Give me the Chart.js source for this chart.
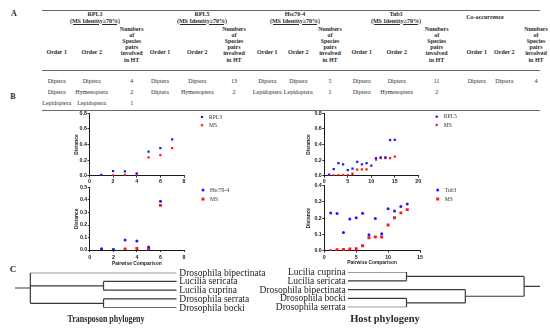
<!DOCTYPE html>
<html>
<head>
<meta charset="utf-8">
<script src="https://cdn.jsdelivr.net/npm/chart.js@4.4.0/dist/chart.umd.min.js"></script>
<style>
  html, body { margin: 0; padding: 0; background: #fff; }
  body { width: 550px; height: 330px; position: relative; overflow: hidden; font-family: "Liberation Serif", serif; color: #2a2a2a; }
  .t { position: absolute; white-space: nowrap; transform: translate(-50%, -50%); line-height: 1; }
  .hd { font-weight: bold; font-size: 6px; }
  .cell { font-size: 6px; }
  .multi { line-height: 6.2px; text-align: center; }
  .rule { position: absolute; background: #6a6a6a; }
  .panel { font-weight: bold; }
  canvas { position: absolute; }
</style>
</head>
<body>
<script>
// ---------- table (A) ----------
var groupNames = ["RPL3", "RPL5", "Hsc70-4", "Tub3", "Co-occurrence"];
var groupNote = "(MS Identity\u226570%)";
var columnNames = ["Order 1", "Order 2"];
var countHeading = ["Numbers", "of", "Species", "pairs", "involved", "in HT"];
var tableRows = [
  ["Diptera", "Diptera", "4", "Diptera", "Diptera", "13", "Diptera", "Diptera", "5", "Diptera", "Diptera", "11", "Diptera", "Diptera", "4"],
  ["Diptera", "Hymenoptera", "2", "Diptera", "Hymenoptera", "2", "Lepidoptera", "Lepidoptera", "1", "Diptera", "Hymenoptera", "2", "", "", ""],
  ["Lepidoptera", "Lepidoptera", "1", "", "", "", "", "", "", "", "", "", "", "", ""]
];

// ---------- scatter plots (B) ----------
var rpl3Pairs = [1, 2, 3, 4, 5, 6, 7];
var rpl3Dist  = [0.01, 0.06, 0.055, 0.03, 0.31, 0.355, 0.465];
var rpl3MS    = [0.0, 0.005, 0.01, 0.01, 0.235, 0.265, 0.355];

var rpl5Pairs = [1, 2, 3, 4, 5, 6, 7, 8, 9, 10, 11, 12, 13, 14, 15];
var rpl5Dist  = [0.015, 0.085, 0.16, 0.145, 0.07, 0.09, 0.178, 0.145, 0.16, 0.128, 0.225, 0.234, 0.234, 0.455, 0.458];
var rpl5MS    = [0.0, 0.005, 0.008, 0.008, 0.008, 0.025, 0.078, 0.082, 0.082, null, 0.205, 0.225, 0.225, 0.225, 0.245];

var hscPairs = [1, 2, 3, 4, 5, 6];
var hscDist  = [0.01, 0.005, 0.08, 0.073, 0.024, 0.39];
var hscMS    = [0.0, 0.0, 0.008, 0.012, 0.01, 0.357];

var tub3Pairs = [1, 2, 3, 4, 5, 6, 7, 8, 9, 10, 11, 12, 13];
var tub3Dist  = [0.231, 0.228, 0.112, 0.195, 0.202, 0.229, 0.098, 0.197, 0.104, 0.258, 0.244, 0.271, 0.287];
var tub3MS    = [0.0, 0.006, 0.008, 0.01, 0.012, 0.03, 0.08, 0.084, 0.084, 0.157, 0.202, 0.232, 0.252];

// axis ranges: [min, max, step]
var rpl3XAxis = [0, 8, 2],  rpl3YAxis = [0, 0.8, 0.2];
var hscXAxis  = [0, 8, 2],  hscYAxis  = [0, 0.5, 0.1];
var rpl5XAxis = [0, 20, 5], rpl5YAxis = [0, 0.8, 0.2];
var tub3XAxis = [0, 15, 5], tub3YAxis = [0, 0.4, 0.1];

// ---------- trees (C) ----------
var transposonTree = { len: 0.21, children: [
  { name: "Drosophila bipectinata", len: 2 },
  { len: 1, children: [ { name: "Lucilia sericata", len: 1 }, { name: "Lucilia cuprina", len: 1 } ] },
  { len: 1, children: [ { name: "Drosophila serrata", len: 1 }, { name: "Drosophila bocki", len: 1 } ] }
]};
var hostTree = { len: 0.27, children: [
  { len: 2, children: [ { name: "Lucilia cuprina", len: 1 }, { name: "Lucilia sericata", len: 1 } ] },
  { len: 1, children: [
    { name: "Drosophila bipectinata", len: 2 },
    { len: 1, children: [ { name: "Drosophila bocki", len: 1 }, { name: "Drosophila serrata", len: 1 } ] }
  ]}
]};

// ---------- layout helpers ----------
var put = function(text, x, y, cls, extra) {
  var d = document.createElement('div');
  d.className = 't ' + cls;
  d.innerHTML = text;
  d.style.left = x + 'px';
  d.style.top = y + 'px';
  if (extra) d.style.cssText += extra;
  document.body.appendChild(d);
  return d;
};
var rule = function(x, y, w, h) {
  var d = document.createElement('div');
  d.className = 'rule';
  d.style.cssText += 'left:' + x + 'px;top:' + y + 'px;width:' + w + 'px;height:' + h + 'px;';
  document.body.appendChild(d);
};

put("A", 14, 14, 'panel', 'font-size:8px;');
put("B", 13, 97, 'panel', 'font-size:8px;');
put("C", 13, 268.5, 'panel', 'font-size:9px;');

// table
var colX = [56.7, 91.7, 131.7, 160, 197.3, 234, 267.3, 298.3, 330, 361.7, 396.7, 436.7, 476.7, 504.3, 536];
var groupX = [95, 202, 295, 396, 485];
var rowY = [81, 92.3, 103.3];

rule(42, 9.5, 498, 1.3);
rule(42, 69.5, 498, 0.9);
rule(42, 109.5, 498, 1.3);

groupNames.forEach(function(g, i) {
  if (i < 4) {
    put(g, groupX[i], 13.5, 'hd');
    put(groupNote, groupX[i], 20.5, 'hd', 'text-decoration:underline;');
  } else {
    put(g, groupX[i], 17, 'hd');
  }
  put(columnNames[0], colX[i * 3], 52.3, 'hd');
  put(columnNames[1], colX[i * 3 + 1], 52.3, 'hd');
  put(countHeading.join('<br>'), colX[i * 3 + 2], 44.6, 'hd multi');
});
tableRows.forEach(function(row, r) {
  row.forEach(function(v, c) {
    if (v !== "") put(v, colX[c], rowY[r], 'cell');
  });
});

// ---------- charts ----------
var sideLegend = {
  id: 'sideLegend',
  afterDraw: function(chart, args, opts) {
    var ctx = chart.ctx, a = chart.chartArea;
    ctx.save();
    ctx.font = opts.font;
    ctx.textBaseline = 'middle';
    ctx.textAlign = 'left';
    chart.data.datasets.forEach(function(ds, i) {
      var x = a.right + opts.dx, y = a.top + opts.dy + i * opts.gap;
      ctx.fillStyle = ds.backgroundColor;
      Chart.helpers.drawPoint(ctx, { pointStyle: ds.pointStyle, radius: ds.pointRadius, rotation: 0, borderWidth: 0 }, x, y);
      ctx.fillStyle = '#333';
      ctx.fillText(ds.label, x + opts.textDx, y + 0.3);
    });
    ctx.restore();
  }
};

var makeCanvas = function(left, top, w, h) {
  var c = document.createElement('canvas');
  c.width = w; c.height = h;
  c.style.left = left + 'px';
  c.style.top = top + 'px';
  c.style.width = w + 'px';
  c.style.height = h + 'px';
  document.body.appendChild(c);
  return c;
};

var tickFont = { family: 'Liberation Sans', size: 5.3, weight: 'bold' };
var titleFont = { family: 'Liberation Sans', size: 4.9, weight: 'bold' };

var scatterPanel = function(cfg) {
  var cv = makeCanvas(cfg.left, cfg.top, cfg.width, cfg.height);
  var pts = function(ys) {
    return cfg.pairs.map(function(p, i) { return { x: p, y: ys[i] }; });
  };
  new Chart(cv, {
    type: 'scatter',
    data: {
      datasets: [
        { label: cfg.names[0], data: pts(cfg.dist), backgroundColor: '#1a1aff', pointStyle: cfg.blueStyle, pointRadius: cfg.blueR, borderWidth: 0 },
        { label: cfg.names[1], data: pts(cfg.ms), backgroundColor: '#ff1a1a', pointStyle: 'rect', pointRadius: cfg.redR, borderWidth: 0 }
      ]
    },
    options: {
      responsive: false,
      animation: false,
      devicePixelRatio: 1,
      layout: { padding: { top: cfg.padTop, right: cfg.padRight, left: 0, bottom: 0 } },
      plugins: {
        legend: { display: false },
        tooltip: { enabled: false },
        sideLegend: { dx: cfg.legendDx, dy: cfg.legendDy, gap: cfg.legendGap, textDx: 7, font: '5.6px "Liberation Serif"' }
      },
      scales: {
        x: {
          type: 'linear', min: cfg.xAxis[0], max: cfg.xAxis[1],
          ticks: { stepSize: cfg.xAxis[2], font: tickFont, color: '#222', padding: cfg.xPad, maxRotation: 0 },
          grid: { drawOnChartArea: false, drawTicks: true, tickLength: 2, color: '#000', lineWidth: 0.8 },
          border: { color: '#000', width: 0.9 },
          title: { display: cfg.xTitle, text: 'Pairwise Comparison', font: titleFont, color: '#222', padding: { top: 0, bottom: 4 } },
          afterFit: function(s) { s.height = cfg.axisH; }
        },
        y: {
          type: 'linear', min: cfg.yAxis[0], max: cfg.yAxis[1],
          ticks: { stepSize: cfg.yAxis[2], font: tickFont, color: '#222', padding: 0.5, callback: function(v) { return v.toFixed(1); } },
          grid: { drawOnChartArea: false, drawTicks: true, tickLength: 2, color: '#000', lineWidth: 0.8 },
          border: { color: '#000', width: 0.9 },
          title: { display: true, text: 'Distance', font: titleFont, color: '#222', padding: { top: 4, bottom: 0 } },
          afterFit: function(s) { s.width = cfg.axisW; }
        }
      }
    },
    plugins: [sideLegend]
  });
};

scatterPanel({ left: 70, top: 106, width: 190, height: 80, axisW: 19.4, axisH: 10.3, padTop: 7.3, padRight: 76,
  pairs: rpl3Pairs, dist: rpl3Dist, ms: rpl3MS, names: ['RPL3', 'MS'], xAxis: rpl3XAxis, yAxis: rpl3YAxis,
  blueStyle: 'rect', blueR: 1.6, redR: 1.6, xTitle: false, xPad: 0.5, legendDx: 18, legendDy: 3.7, legendGap: 8.2 });

scatterPanel({ left: 70, top: 180, width: 190, height: 91, axisW: 19.8, axisH: 21, padTop: 7.5, padRight: 76,
  pairs: hscPairs, dist: hscDist, ms: hscMS, names: ['Hsc70-4', 'MS'], xAxis: hscXAxis, yAxis: hscYAxis,
  blueStyle: 'circle', blueR: 1.5, redR: 2.1, xTitle: true, xPad: 2, legendDx: 19, legendDy: 2.6, legendGap: 9 });

scatterPanel({ left: 302, top: 106, width: 190, height: 80, axisW: 22.3, axisH: 10.3, padTop: 7.3, padRight: 73.7,
  pairs: rpl5Pairs, dist: rpl5Dist, ms: rpl5MS, names: ['RPL5', 'MS'], xAxis: rpl5XAxis, yAxis: rpl5YAxis,
  blueStyle: 'rect', blueR: 1.6, redR: 1.6, xTitle: false, xPad: 0.5, legendDx: 18.4, legendDy: 3.4, legendGap: 8.3 });

scatterPanel({ left: 302, top: 178, width: 190, height: 92, axisW: 22.3, axisH: 19.3, padTop: 7.5, padRight: 72,
  pairs: tub3Pairs, dist: tub3Dist, ms: tub3MS, names: ['Tub3', 'MS'], xAxis: tub3XAxis, yAxis: tub3YAxis,
  blueStyle: 'circle', blueR: 1.5, redR: 2.1, xTitle: true, xPad: 1.5, legendDx: 17.7, legendDy: 4.5, legendGap: 9 });

// ---------- trees ----------
var layoutTree = function(node, parentX, out) {
  var x = parentX + node.len;
  if (!node.children) {
    var ly = out.leaves.length;
    out.leaves.push({ name: node.name, x: x, y: ly });
    out.pts.push({ x: parentX, y: ly }, { x: x, y: ly }, { x: NaN, y: null });
    out.depth = Math.max(out.depth, x);
    return ly;
  }
  var ys = node.children.map(function(c) { return layoutTree(c, x, out); });
  var y0 = ys[0], y1 = ys[ys.length - 1], y = (y0 + y1) / 2;
  out.pts.push({ x: x, y: y0 }, { x: x, y: y1 }, { x: NaN, y: null });
  out.pts.push({ x: parentX, y: y }, { x: x, y: y }, { x: NaN, y: null });
  return y;
};

var leafLabels = {
  id: 'leafLabels',
  afterDatasetsDraw: function(chart, args, opts) {
    var ctx = chart.ctx, xs = chart.scales.x, ys = chart.scales.y;
    ctx.save();
    ctx.font = '9.5px "Liberation Serif"';
    ctx.fillStyle = '#222';
    ctx.textBaseline = 'middle';
    ctx.textAlign = opts.align;
    opts.leaves.forEach(function(l) {
      ctx.fillText(l.name, xs.getPixelForValue(l.x) + opts.dx, ys.getPixelForValue(l.y) + 0.5);
    });
    ctx.restore();
  }
};

var treePanel = function(tree, cfg) {
  var out = { leaves: [], pts: [], depth: 0 };
  layoutTree(tree, 0, out);
  var cv = makeCanvas(cfg.left, cfg.top, cfg.width, cfg.height);
  new Chart(cv, {
    type: 'scatter',
    data: { datasets: [ { data: out.pts, showLine: true, spanGaps: false, borderColor: '#3a3a3a', borderWidth: 1.2, pointRadius: 0 } ] },
    options: {
      responsive: false,
      animation: false,
      devicePixelRatio: 1,
      layout: { padding: cfg.padding },
      plugins: {
        legend: { display: false },
        tooltip: { enabled: false },
        leafLabels: { leaves: out.leaves, align: cfg.align, dx: cfg.dx }
      },
      scales: {
        x: { type: 'linear', display: false, min: 0, max: out.depth, reverse: cfg.reverse },
        y: { type: 'linear', display: false, min: 0, max: out.leaves.length - 1, reverse: true }
      }
    },
    plugins: [leafLabels]
  });
};

treePanel(transposonTree, { left: 10, top: 266, width: 270, height: 48,
  padding: { left: 5, right: 103.3, top: 6.7, bottom: 6.3 }, align: 'left', dx: 2.6, reverse: false });
treePanel(hostTree, { left: 250, top: 266, width: 300, height: 48,
  padding: { left: 97.7, right: 10, top: 6, bottom: 6.7 }, align: 'right', dx: -2, reverse: true });

put("Transposon phylogeny", 106, 319, 'panel', 'font-size:10.5px;transform:translate(-50%,-50%) scaleX(0.76);');
put("Host phylogeny", 385, 318.5, 'panel', 'font-size:10.5px;');
</script>
</body>
</html>
